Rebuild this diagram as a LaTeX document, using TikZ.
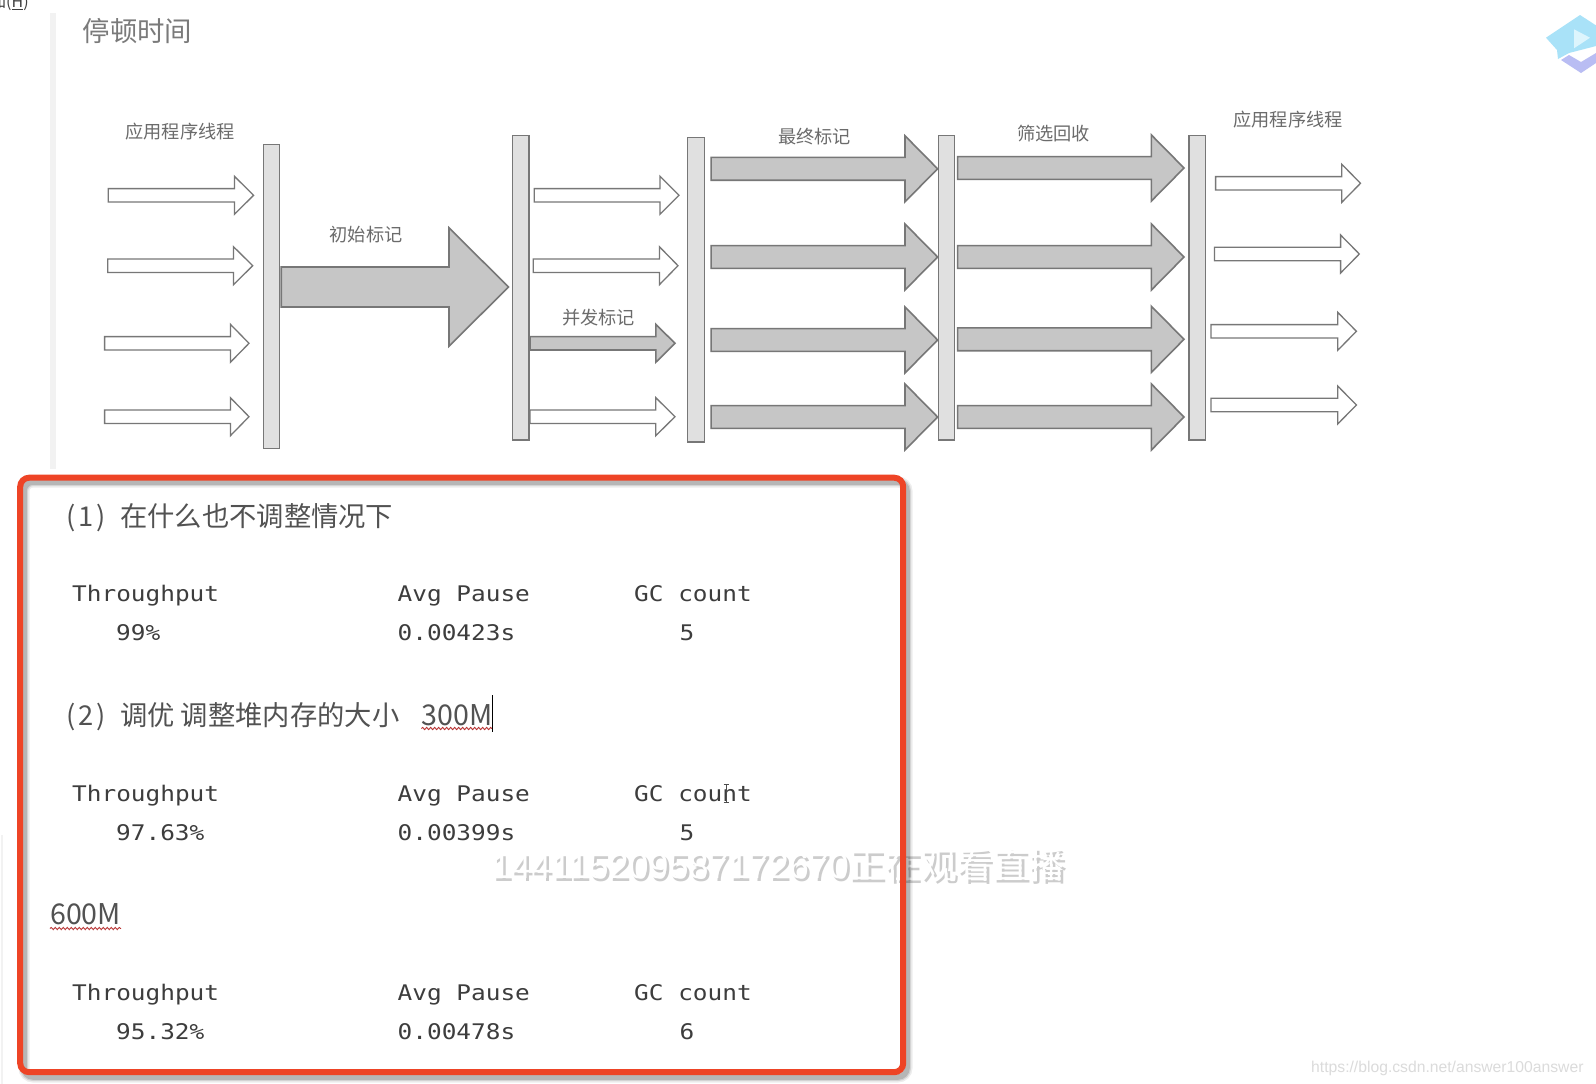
\documentclass[tikz,border=0pt]{standalone}
\usepackage{fontspec}
\usetikzlibrary{decorations.pathmorphing}
\newfontfamily\cjk{Noto Sans CJK SC}
\newfontfamily\monof[FakeStretch=1.135]{DejaVu Sans Mono}
\newfontfamily\wmf{Liberation Sans}
\definecolor{edgeg}{HTML}{777777}
\definecolor{fillg}{HTML}{C6C6C6}
\definecolor{barg}{HTML}{E0E0E0}
\definecolor{redbox}{HTML}{EE4426}
\definecolor{logoblue}{HTML}{A9E2F8}
\definecolor{logopale}{HTML}{DDF5FD}
\definecolor{logopurple}{HTML}{B9BDF3}
\newcommand{\blockarrow}[7]{%
  % style, x1, x2, xhead, centre, half shaft, half head
  \draw[#1] (#2,#5-#6) -- (#4,#5-#6) -- (#4,#5-#7) -- (#3,#5) -- (#4,#5+#7) -- (#4,#5+#6) -- (#2,#5+#6) -- cycle;}
\newcommand{\whitearrow}[4]{\blockarrow{openarrow}{#1}{#2}{#3}{#4}{6.7}{19}}
\newcommand{\greyarrow}[4]{\blockarrow{solidarrow}{#1}{#2}{#3}{#4}{11.4}{33}}
\newcommand{\barnode}[5]{\node[barbox,minimum width=#4-#3,minimum height=#5-#2] (#1) at ({(#3+#4)/2},{(#2+#5)/2}) {};}
\newcommand{\statsrow}[6]{%
  \node[mono] (#6a) at (72,#1) {Throughput};
  \node[mono] (#6b) at (397.5,#1) {Avg Pause};
  \node[mono] (#6c) at (634,#1) {GC count};
  \node[mono] (#6d) at (116,#1+39) {#2};
  \node[mono] (#6e) at (397.5,#1+39) {#3};
  \node[mono] (#6f) at (#5,#1+39) {#4};}
\tikzset{
  x=1pt,y=-1pt,
  openarrow/.style={draw=edgeg,line width=1.3pt,fill=white,line join=miter},
  solidarrow/.style={draw=edgeg,line width=1.6pt,fill=fillg,line join=miter},
  barbox/.style={draw=edgeg,line width=1.4pt,fill=barg,inner sep=0pt,outer sep=0pt},
  lab/.style={inner sep=0pt,text=black!58,font=\cjk\fontsize{18.2}{18.2}\selectfont},
  body/.style={inner sep=0pt,anchor=base west,text=black!68,font=\cjk\fontsize{27.3}{27.3}\selectfont},
  latin/.style={inner sep=0pt,anchor=base west,text=black!68,font=\cjk\fontsize{28.6}{28.6}\selectfont},
  mono/.style={inner sep=0pt,anchor=base west,text=black!76,font=\monof\fontsize{21.5}{21.5}\selectfont},
  wave/.style={draw=red!65!black!80,line width=0.9pt,decorate,decoration={snake,segment length=4pt,amplitude=1.1pt}},
  wmark/.style={inner sep=0pt,anchor=base west,font=\wmf\fontsize{36}{36}\selectfont},
  redframe/.style={rounded corners=9pt,line width=6pt},
}
\newcommand{\wmtext}{144115209587172670{\cjk 正在观看直播}}
\begin{document}
\begin{tikzpicture}
\useasboundingbox (0,0) rectangle (1596,1084);
\fill[white] (0,0) rectangle (1596,1084);
% side strips
\fill[black!5] (50,13) rectangle (56,469);
\fill[black!5] (0.5,835) rectangle (2.5,1084);
% top-left clipped menu text
\begin{scope}
\clip (0,0) rectangle (40,14);
\node[inner sep=0pt,anchor=base west,text=black!75,font=\cjk\fontsize{16}{16}\selectfont] (menu) at (-10,7.5) {加(\underline{H})};
\end{scope}
% logo
\begin{scope}
\clip (1520,0) rectangle (1596,90);
\fill[logopurple] (1561,60) -- (1581,73) -- (1596,63) -- (1596,53) -- (1581,62) -- (1569,55) -- cycle;
\fill[logoblue] (1546,37.7) -- (1580,15) -- (1600,28) -- (1600,45) -- (1569,53) -- (1558,59) -- (1557,50) -- cycle;
\fill[logopale] (1574,29.3) -- (1590,37.7) -- (1574,48.3) -- cycle;
\end{scope}
% title
\node[inner sep=0pt,anchor=base west,text=black!52,font=\cjk\fontsize{27.4}{27.4}\selectfont] (title) at (82.5,41.5) {停顿时间};
% barriers
\barnode{b1}{144.3}{263.6}{279.4}{448.3}
\barnode{b2}{135.7}{512.7}{529}{440}
\barnode{b3}{137.7}{687.7}{704.5}{442}
\barnode{b4}{135.7}{938.2}{954.5}{440}
\barnode{b5}{135.7}{1189}{1205.6}{440}
% first group
\whitearrow{108.3}{253.6}{234.4}{195.3}
\whitearrow{107.7}{252.7}{233.5}{265.7}
\whitearrow{104.6}{249}{230.4}{343.3}
\whitearrow{104.6}{249}{230.4}{416.7}
\blockarrow{solidarrow}{281.2}{508.5}{449}{287}{20}{59.2}
% concurrent group
\whitearrow{534.2}{679}{660}{195.3}
\whitearrow{533.3}{678}{659.4}{265.7}
\blockarrow{solidarrow}{530}{675}{655.8}{343.3}{6.7}{19}
\whitearrow{530}{675}{655.8}{416.7}
% final mark
\greyarrow{711.1}{937.6}{905}{168.8}
\greyarrow{711.1}{937.6}{905}{257}
\greyarrow{711.1}{937.6}{905}{340}
\greyarrow{711.1}{937.6}{905}{417}
% cleanup
\greyarrow{957.6}{1184}{1151.4}{168}
\greyarrow{957.6}{1184}{1151.4}{257}
\greyarrow{957.6}{1184}{1151.4}{339.3}
\greyarrow{957.6}{1184}{1151.4}{417}
% right group
\whitearrow{1215.6}{1360.5}{1341.8}{183.3}
\whitearrow{1214.5}{1359.3}{1340.6}{254}
\whitearrow{1211}{1356.4}{1337.7}{331.3}
\whitearrow{1211}{1356.4}{1337.7}{405}
% diagram labels
\node[lab] (l1) at (180,132) {应用程序线程};
\node[lab] (l2) at (366,234.5) {初始标记};
\node[lab] (l3) at (598.5,317.5) {并发标记};
\node[lab] (l4) at (814.5,137) {最终标记};
\node[lab] (l5) at (1053.5,134) {筛选回收};
\node[lab] (l6) at (1288,120) {应用程序线程};
% live-stream watermark, under the frame
\node[wmark,text=black!20] (wmshadow) at (493.5,881) {\wmtext};
\node[wmark,text=white] (wm) at (491,878) {\wmtext};
% frame shadow
\foreach \w/\o in {11/0.07,8/0.10,5.5/0.14}{
  \draw[redframe,line width=\w pt,black,opacity=\o] (24,482) rectangle (907,1077);
}
\draw[redframe,draw=redbox] (20.2,477.7) rectangle (903.2,1072.2);
% text block
\node[body] (p1) at (66,526) {(\kern3pt1\kern3pt)};
\node[body] (t1) at (120,526) {在什么也不调整情况下};
\statsrow{601.7}{99\%}{0.00423s}{5}{679.5}{r}
\node[body] (p2) at (66,725) {(\kern3pt2\kern3pt)};
\node[body] (t2) at (120,725) {调优 调整堆内存的大小};
\node[latin] (m3) at (421.4,725) {300M};
\coordinate (w3a) at (421.4,728.5);
\coordinate (w3b) at (492,728.5);
\draw[wave] (w3a) -- (w3b);
\coordinate (ca) at (492.6,695);
\coordinate (cb) at (492.6,732);
\draw[black,line width=1.1pt] (ca) -- (cb);
\statsrow{801}{97.63\%}{0.00399s}{5}{679.5}{s}
\node[latin] (m6) at (50,924) {600M};
\coordinate (w6a) at (50,928.5);
\coordinate (w6b) at (121,928.5);
\draw[wave] (w6a) -- (w6b);
\statsrow{1000.5}{95.32\%}{0.00478s}{6}{679.5}{u}
% I-beam cursor
\coordinate (ia) at (726,784);
\coordinate (ib) at (726,802);
\draw[black!70,line width=0.9pt] (ia) -- (ib) (723.5,784) -- (728.5,784) (723.5,802) -- (728.5,802);
% url watermark
\node[inner sep=0pt,anchor=base west,text=black!14,font=\wmf\fontsize{15.7}{15.7}\selectfont] (url) at (1311,1072) {https://blog.csdn.net/answer100answer};
\end{tikzpicture}
\end{document}
